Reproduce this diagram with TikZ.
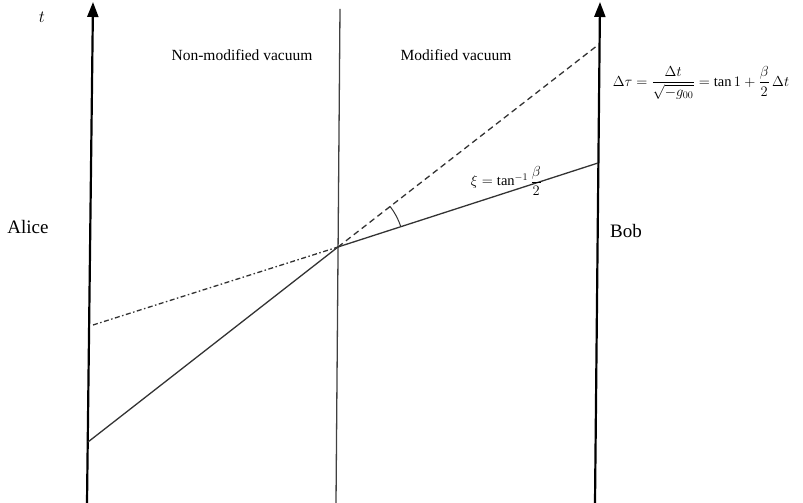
\RequirePackage{fix-cm}
\documentclass[tikz,border=0pt]{standalone}
\usepackage{amsmath}
\usepackage{fontspec}
\setmainfont{Liberation Serif}
\usetikzlibrary{arrows.meta,angles}
\begin{document}
\begin{tikzpicture}[x=1pt,y=1pt,
  axis/.style={line width=2.2pt, draw=black, -{Triangle[length=15pt,width=11pt]}},
  wall/.style={line width=1.3pt, draw=black!75},
  world/.style={line width=1.3pt, draw=black!80},
  dashedworld/.style={world, dash pattern=on 6pt off 4pt},
  dotworld/.style={world, dash pattern=on 5pt off 2.5pt on 1.5pt off 2.5pt},
  biglbl/.style={font=\fontsize{19}{22}\selectfont, inner sep=0pt},
  regionlbl/.style={font=\fontsize{15.5}{18}\selectfont, inner sep=0pt},
  mathlbl/.style={font=\fontsize{14.5}{17}\selectfont, inner sep=0pt}]
\useasboundingbox (0,0) rectangle (803,503);
% axes and the boundary wall
\coordinate (Ab) at (87,0);
\coordinate (At) at (93,501);
\coordinate (Mb) at (336,0);
\coordinate (Mt) at (340,494);
\coordinate (Bb) at (595,0);
\coordinate (Bt) at (600,501);
\draw[axis] (Ab) -- (At);
\draw[wall] (Mb) -- (Mt);
\draw[axis] (Bb) -- (Bt);
% world lines
\coordinate (O) at (338,256);
\coordinate (L1) at (88,61);
\coordinate (SR) at (598,340);
\coordinate (DR) at (598,458);
\coordinate (DL) at (93,178);
\draw[world] (L1) -- (O);
\draw[world] (O) -- (SR);
\draw[dashedworld] (O) -- (DR);
\draw[dotworld] (DL) -- (O);
\pic[draw=black!80, line width=1pt, angle radius=66pt] {angle = SR--O--DR};
% labels
\node[inner sep=0pt, font=\fontsize{17}{20}\selectfont] (tl) at (42,486) {$t$};
\node[regionlbl] (nmv) at (242,448) {Non-modified vacuum};
\node[regionlbl] (mv) at (456,448) {Modified vacuum};
\node[biglbl] (alice) at (28,276) {Alice};
\node[biglbl] (bob) at (626,272) {Bob};
\node[mathlbl, anchor=east] (xi) at (542,322) {$\xi = \tan^{-1}\dfrac{\beta}{2}$};
\node[mathlbl] (dtau) at (701,420) {$\Delta\tau = \dfrac{\Delta t}{\sqrt{-g_{00}}} = \tan 1 + \dfrac{\beta}{2}\,\Delta t$};
\end{tikzpicture}
\end{document}
